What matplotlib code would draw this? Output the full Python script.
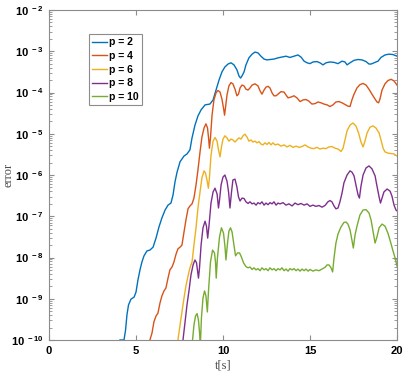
import numpy as np
import matplotlib
matplotlib.use("Agg")
import matplotlib.pyplot as plt
from matplotlib.ticker import FuncFormatter, LogLocator, NullFormatter

plt.rcParams['font.family'] = ['Liberation Sans', 'DejaVu Sans']
plt.rcParams['mathtext.fontset'] = 'custom'
plt.rcParams['mathtext.bf'] = 'Liberation Sans:bold'
plt.rcParams['mathtext.rm'] = 'Liberation Sans'

# values: t in seconds, log10 of the error
t_p2 = [4.08, 4.31, 4.40, 4.48, 4.57, 4.71, 4.89, 5.00, 5.11, 5.23, 5.34, 5.46, 5.63, 5.80,
        5.98, 6.15, 6.32, 6.49, 6.67, 6.84, 7.01, 7.13, 7.24, 7.36, 7.53, 7.76, 7.93, 8.10,
        8.22, 8.39, 8.56, 8.74, 8.97, 9.25, 9.43, 9.60, 9.77, 9.94, 10.11, 10.29, 10.46,
        10.63, 10.80, 10.92, 11.01, 11.09, 11.21, 11.32, 11.49, 11.67, 11.84, 12.01, 12.18,
        12.36, 12.53, 12.70, 12.93, 13.16, 13.39, 13.62, 13.85, 14.08, 14.31, 14.48, 14.66,
        14.83, 15.00, 15.17, 15.40, 15.57, 15.75, 15.92, 16.15, 16.38, 16.61, 16.84, 17.01,
        17.13, 17.30, 17.53, 17.76, 17.99, 18.22, 18.39, 18.51, 18.68, 18.91, 19.08, 19.31,
        19.54, 19.77, 20.0]
e_p2 = [-10, -10, -9.76, -9.39, -9.15, -9.01, -8.96, -8.84, -8.55, -8.30, -8.11, -7.96, -7.84,
        -7.82, -7.75, -7.53, -7.26, -7.04, -6.85, -6.73, -6.68, -6.48, -6.17, -5.93, -5.68,
        -5.54, -5.49, -5.39, -5.10, -4.79, -4.57, -4.42, -4.30, -4.28, -4.18, -3.94, -3.70,
        -3.50, -3.38, -3.31, -3.28, -3.33, -3.45, -3.60, -3.65, -3.60, -3.50, -3.33, -3.16,
        -3.07, -3.02, -3.04, -3.12, -3.19, -3.21, -3.20, -3.19, -3.16, -3.14, -3.12, -3.15,
        -3.12, -3.09, -3.14, -3.24, -3.28, -3.30, -3.26, -3.25, -3.28, -3.33, -3.28, -3.26,
        -3.27, -3.30, -3.24, -3.26, -3.33, -3.28, -3.22, -3.20, -3.21, -3.25, -3.31, -3.31,
        -3.28, -3.24, -3.15, -3.09, -3.07, -3.08, -3.12]

t_p4 = [5.80, 5.92, 6.03, 6.15, 6.26, 6.38, 6.49, 6.61, 6.72, 6.84, 6.95, 7.07, 7.18, 7.30,
        7.41, 7.53, 7.64, 7.76, 7.87, 7.99, 8.10, 8.22, 8.33, 8.45, 8.56, 8.68, 8.79, 8.91,
        9.02, 9.11, 9.17, 9.22, 9.28, 9.37, 9.48, 9.60, 9.71, 9.83, 9.94, 10.03, 10.09, 10.14,
        10.23, 10.34, 10.46, 10.57, 10.69, 10.80, 10.89, 10.98, 11.09, 11.21, 11.32, 11.44,
        11.55, 11.67, 11.84, 12.01, 12.13, 12.24, 12.36, 12.47, 12.59, 12.70, 12.82, 12.93,
        13.05, 13.16, 13.33, 13.51, 13.62, 13.74, 13.91, 14.08, 14.25, 14.43, 14.60, 14.77,
        14.94, 15.11, 15.29, 15.46, 15.63, 15.80, 15.98, 16.15, 16.32, 16.49, 16.67, 16.84,
        17.01, 17.18, 17.30, 17.41, 17.53, 17.70, 17.87, 18.05, 18.22, 18.39, 18.56, 18.74,
        18.85, 18.94, 19.02, 19.14, 19.31, 19.48, 19.66, 19.83, 20.0]
e_p4 = [-10, -9.83, -9.56, -9.42, -9.35, -9.10, -8.93, -8.81, -8.74, -8.50, -8.30, -8.23,
        -8.11, -7.92, -7.79, -7.75, -7.70, -7.38, -7.09, -6.82, -6.75, -6.70, -6.56, -6.24,
        -5.88, -5.44, -5.08, -4.86, -4.76, -4.86, -5.10, -5.35, -5.10, -4.55, -4.18, -4.01,
        -3.95, -3.99, -4.16, -4.38, -4.55, -4.38, -4.06, -3.84, -3.76, -3.79, -3.92, -4.08,
        -4.04, -3.89, -3.82, -3.84, -3.92, -3.94, -3.89, -3.82, -3.79, -3.84, -3.96, -4.04,
        -3.94, -3.87, -3.85, -3.89, -4.01, -4.08, -4.08, -4.04, -3.98, -3.99, -4.06, -4.13,
        -4.11, -4.08, -4.13, -4.22, -4.18, -4.17, -4.21, -4.28, -4.27, -4.23, -4.25, -4.28,
        -4.30, -4.34, -4.30, -4.23, -4.22, -4.25, -4.29, -4.33, -4.34, -4.18, -4.04, -3.89,
        -3.81, -3.78, -3.82, -3.92, -4.04, -4.16, -4.23, -4.25, -4.16, -3.94, -3.79, -3.71,
        -3.68, -3.72, -3.82]

t_p6 = [7.41, 7.53, 7.64, 7.76, 7.87, 7.99, 8.10, 8.22, 8.33, 8.45, 8.56, 8.68, 8.79, 8.91,
        8.99, 9.08, 9.16, 9.22, 9.31, 9.43, 9.54, 9.66, 9.74, 9.83, 9.91, 10.00, 10.11, 10.23,
        10.34, 10.46, 10.57, 10.69, 10.80, 10.92, 11.03, 11.15, 11.26, 11.38, 11.49, 11.61,
        11.72, 11.84, 11.95, 12.07, 12.18, 12.30, 12.41, 12.53, 12.64, 12.76, 12.87, 12.99,
        13.16, 13.33, 13.51, 13.68, 13.85, 14.02, 14.20, 14.37, 14.54, 14.71, 14.89, 15.06,
        15.23, 15.40, 15.57, 15.75, 15.92, 16.09, 16.26, 16.44, 16.61, 16.78, 16.90, 17.01,
        17.13, 17.30, 17.47, 17.64, 17.79, 17.93, 18.05, 18.16, 18.28, 18.45, 18.62, 18.79,
        18.97, 19.08, 19.20, 19.31, 19.48, 19.66, 19.83, 20.0]
e_p6 = [-10, -9.64, -9.32, -8.98, -8.69, -8.45, -8.25, -8.11, -7.70, -7.28, -6.80, -6.41,
        -6.07, -5.90, -5.95, -6.12, -6.32, -6.07, -5.52, -5.18, -5.09, -5.18, -5.39, -5.56,
        -5.32, -5.13, -5.05, -5.10, -5.18, -5.13, -5.15, -5.20, -5.15, -5.10, -5.13, -5.05,
        -5.01, -5.08, -5.18, -5.15, -5.20, -5.18, -5.22, -5.19, -5.25, -5.27, -5.22, -5.26,
        -5.21, -5.27, -5.22, -5.27, -5.25, -5.30, -5.27, -5.32, -5.28, -5.33, -5.30, -5.33,
        -5.31, -5.27, -5.32, -5.35, -5.36, -5.33, -5.37, -5.35, -5.36, -5.32, -5.31, -5.35,
        -5.37, -5.43, -5.35, -5.15, -4.93, -4.79, -4.74, -4.81, -4.98, -5.20, -5.32, -5.18,
        -4.98, -4.84, -4.81, -4.86, -4.98, -5.15, -5.35, -5.44, -5.47, -5.48, -5.49, -5.54]

t_p8 = [7.70, 7.82, 7.93, 8.05, 8.16, 8.28, 8.39, 8.48, 8.53, 8.59, 8.65, 8.74, 8.85, 8.97,
        9.05, 9.12, 9.20, 9.31, 9.43, 9.54, 9.66, 9.74, 9.80, 9.89, 10.00, 10.11, 10.23, 10.32,
        10.40, 10.49, 10.57, 10.69, 10.80, 10.89, 10.98, 11.09, 11.21, 11.32, 11.44, 11.55,
        11.67, 11.78, 11.90, 12.01, 12.13, 12.24, 12.36, 12.47, 12.59, 12.70, 12.82, 12.93,
        13.05, 13.16, 13.28, 13.45, 13.62, 13.79, 13.97, 14.14, 14.31, 14.48, 14.66, 14.83,
        15.00, 15.17, 15.34, 15.52, 15.69, 15.86, 16.03, 16.15, 16.26, 16.38, 16.49, 16.61,
        16.72, 16.84, 16.95, 17.13, 17.30, 17.41, 17.53, 17.64, 17.76, 17.84, 17.93, 18.05,
        18.22, 18.39, 18.56, 18.74, 18.85, 18.97, 19.05, 19.14, 19.25, 19.43, 19.60, 19.71,
        19.83, 19.94, 20.0]
e_p8 = [-10, -9.56, -9.15, -8.79, -8.42, -8.18, -8.06, -8.13, -8.30, -8.50, -8.25, -7.70,
        -7.28, -7.12, -7.24, -7.53, -7.21, -6.68, -6.41, -6.32, -6.46, -6.80, -6.61, -6.24,
        -6.05, -6.00, -6.15, -6.41, -6.80, -6.41, -6.12, -6.10, -6.29, -6.53, -6.63, -6.56,
        -6.57, -6.65, -6.69, -6.65, -6.70, -6.68, -6.73, -6.67, -6.70, -6.65, -6.73, -6.68,
        -6.72, -6.67, -6.70, -6.65, -6.73, -6.68, -6.70, -6.67, -6.73, -6.70, -6.75, -6.68,
        -6.72, -6.69, -6.73, -6.70, -6.76, -6.73, -6.76, -6.74, -6.78, -6.74, -6.65, -6.62,
        -6.65, -6.75, -6.82, -6.80, -6.65, -6.44, -6.19, -6.00, -5.90, -5.93, -6.02, -6.24,
        -6.48, -6.56, -6.27, -6.00, -5.83, -5.78, -5.85, -6.02, -6.27, -6.53, -6.68, -6.56,
        -6.41, -6.34, -6.39, -6.51, -6.73, -6.85, -6.87]

t_p10 = [8.25, 8.33, 8.42, 8.51, 8.59, 8.65, 8.70, 8.76, 8.85, 8.94, 9.02, 9.10, 9.17, 9.28,
         9.40, 9.51, 9.57, 9.61, 9.68, 9.80, 9.91, 10.03, 10.11, 10.17, 10.26, 10.34, 10.43,
         10.52, 10.63, 10.72, 10.83, 10.95, 11.06, 11.18, 11.32, 11.44, 11.55, 11.67, 11.78,
         11.90, 12.01, 12.13, 12.24, 12.36, 12.47, 12.59, 12.70, 12.82, 12.93, 13.05, 13.16,
         13.28, 13.39, 13.51, 13.62, 13.74, 13.85, 13.97, 14.08, 14.20, 14.31, 14.43, 14.54,
         14.66, 14.77, 14.89, 15.00, 15.17, 15.34, 15.52, 15.69, 15.86, 15.98, 16.09, 16.21,
         16.30, 16.38, 16.49, 16.61, 16.78, 16.95, 17.07, 17.18, 17.30, 17.41, 17.49, 17.59,
         17.70, 17.87, 18.05, 18.22, 18.39, 18.51, 18.62, 18.74, 18.85, 18.97, 19.14, 19.31,
         19.48, 19.66, 19.77, 19.89, 20.0]
e_p10 = [-10, -9.64, -9.42, -9.36, -9.52, -9.81, -10.1, -9.47, -8.98, -8.81, -8.93, -9.32,
         -8.79, -8.11, -7.82, -7.89, -8.11, -8.50, -8.01, -7.50, -7.28, -7.41, -7.72, -8.06,
         -7.65, -7.36, -7.28, -7.38, -7.70, -7.96, -7.89, -7.89, -7.99, -8.13, -8.22, -8.25,
         -8.23, -8.29, -8.25, -8.30, -8.27, -8.32, -8.25, -8.30, -8.27, -8.32, -8.25, -8.30,
         -8.27, -8.32, -8.27, -8.30, -8.25, -8.32, -8.28, -8.33, -8.27, -8.30, -8.27, -8.32,
         -8.28, -8.33, -8.28, -8.32, -8.28, -8.33, -8.29, -8.33, -8.30, -8.32, -8.28, -8.24,
         -8.18, -8.18, -8.25, -8.35, -8.01, -7.65, -7.43, -7.26, -7.15, -7.14, -7.19, -7.33,
         -7.58, -7.77, -7.45, -7.24, -6.97, -6.85, -6.84, -6.92, -7.09, -7.36, -7.65, -7.50,
         -7.28, -7.19, -7.24, -7.41, -7.67, -7.84, -8.01, -8.21]

labels = ['p = 2', 'p = 4', 'p = 6', 'p = 8', 'p = 10']
colors = ['#0072BD', '#D95319', '#EDB120', '#7E2F8E', '#77AC30']
series = [(t_p2, e_p2), (t_p4, e_p4), (t_p6, e_p6), (t_p8, e_p8), (t_p10, e_p10)]
x_ticks = [0, 5, 10, 15, 20]
y_decades = list(range(-10, -1))

fig = plt.figure(figsize=(4.07, 3.74), dpi=100)
ax = fig.add_axes([49 / 407, 34 / 374, 348 / 407, 330 / 374])

for (t, e), lab, c in zip(series, labels, colors):
    ax.semilogy(t, 10.0 ** np.array(e), color=c, lw=1.0, label=lab)

ax.set_xlim(0, 20)
ax.set_ylim(1e-10, 1e-2)
ax.set_xticks(x_ticks)
ax.set_yticks([10.0 ** d for d in y_decades])
ax.yaxis.set_minor_locator(LogLocator(base=10, subs=np.arange(2, 10), numticks=20))
ax.yaxis.set_minor_formatter(NullFormatter())
ax.yaxis.set_major_formatter(FuncFormatter(
    lambda v, p: r'$\mathbf{10^{\ %d}}$' % int(round(np.log10(v)))))

for s in ax.spines.values():
    s.set_color('0.55')
    s.set_linewidth(0.8)
ax.tick_params(which='both', direction='in', top=True, right=True, color='0.55')
ax.tick_params(which='major', length=3.5, labelsize=8, pad=4)
ax.tick_params(which='minor', length=2)
for lbl in ax.get_xticklabels():
    lbl.set_fontweight('bold')

ax.set_xlabel('t[s]', family='Liberation Serif', fontsize=9, color='0.3')
ax.set_ylabel('error', family='Liberation Serif', fontsize=9, color='0.3')
ax.xaxis.set_label_coords(0.5, -0.058)
ax.yaxis.set_label_coords(-0.1, 0.5)

leg = ax.legend(loc='upper left', bbox_to_anchor=(0.115, 0.927), prop={'weight': 'bold', 'size': 7.5},
                handlelength=1.45, handletextpad=0.2, labelspacing=0.35, borderpad=0.3,
                fancybox=False, framealpha=1, borderaxespad=0)
leg.get_frame().set_edgecolor('0.55')
leg.get_frame().set_linewidth(0.8)

fig.savefig('out.png', dpi=100)
